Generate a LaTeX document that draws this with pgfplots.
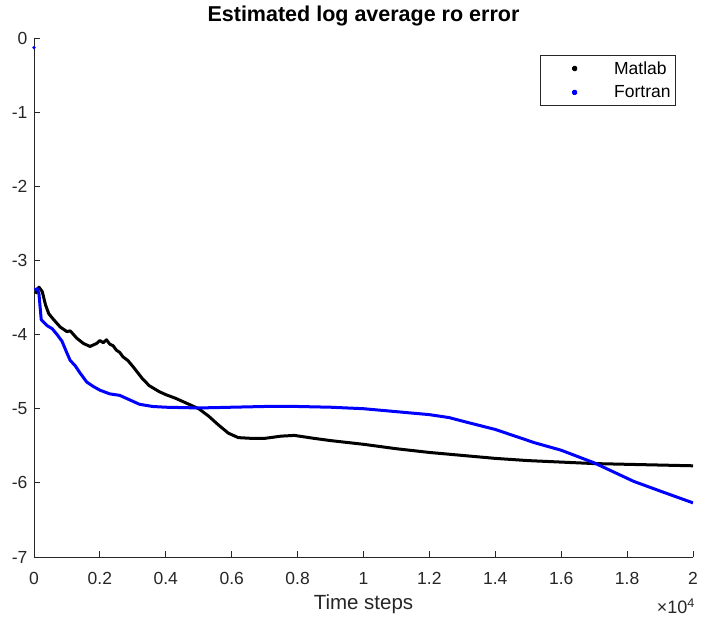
\documentclass[border=0pt]{standalone}
\usepackage{fontspec}
\setmainfont{Liberation Sans}
\usepackage{pgfplots}
\pgfplotsset{compat=1.18}
\definecolor{axgray}{gray}{0.15}

\begin{document}
\begin{tikzpicture}
\begin{axis}[
  scale only axis,
  width=659pt, height=519pt,
  xmin=0, xmax=20000, ymin=-7, ymax=0,
  axis x line*=bottom, axis y line*=left,
  axis line style={axgray, line width=0.8pt, -},
  tick style={axgray, line width=0.8pt},
  tick align=inside, major tick length=6pt,
  xtick={0,2000,...,20000},
  ytick={-7,-6,...,0},
  scaled x ticks=base 10:-4,
  xtick scale label code/.code={×10\textsuperscript{4}},
  every x tick scale label/.style={at={(rel axis cs:1,0)}, anchor=base east, inner sep=0pt, yshift=-45pt, xshift=2pt, font=\fontsize{18}{20}\selectfont, text=axgray},
  /pgf/number format/assume math mode=true,
  ticklabel style={font=\fontsize{17.5}{19}\selectfont, text=axgray},
  xticklabel style={yshift=-12pt},
  yticklabel style={xshift=-3pt},
  xlabel={Time steps},
  xlabel style={font=\fontsize{20.5}{22}\selectfont, text=axgray, at={(rel axis cs:0.5,0)}, anchor=base, yshift=-53pt, inner sep=0pt},
  title={Estimated log average ro error},
  title style={font=\bfseries\fontsize{21.5}{24}\selectfont, at={(rel axis cs:0.5,1)}, anchor=south, yshift=6pt, inner sep=0pt},
  legend style={at={(rel axis cs:0.974,0.967)}, anchor=north east, draw=axgray, line width=0.6pt,
    font=\fontsize{17.5}{19}\selectfont, inner xsep=3pt, inner ysep=4pt, row sep=6pt},
  legend cell align=left,
  legend image code/.code={\path (0,0) (66pt,0); \fill[#1] (30pt,0) circle (1.5pt);},
]
\addplot[black, line width=3pt, line join=round] coordinates {
(50,-3.45) (150,-3.36) (250,-3.42) (350,-3.60) (450,-3.72) (600,-3.80)
(800,-3.90) (1000,-3.96) (1100,-3.95) (1300,-4.05) (1500,-4.12) (1700,-4.16)
(1900,-4.12) (2000,-4.08) (2100,-4.11) (2200,-4.07) (2300,-4.13) (2400,-4.15)
(2500,-4.21) (2600,-4.24) (2700,-4.30) (2850,-4.35) (3000,-4.43) (3300,-4.60)
(3500,-4.69) (3800,-4.77) (4000,-4.81) (4300,-4.86) (4600,-4.92) (5000,-5.00)
(5300,-5.10) (5600,-5.22) (5900,-5.33) (6200,-5.39) (6600,-5.40) (7000,-5.40)
(7500,-5.37) (7900,-5.36) (8500,-5.40) (9000,-5.43) (10000,-5.48) (11000,-5.54)
(12000,-5.59) (13000,-5.63) (14000,-5.67) (15000,-5.70) (16000,-5.72)
(17000,-5.74) (18000,-5.75) (19000,-5.76) (20000,-5.77)
};
\addlegendentry{Matlab}
\addplot[blue, line width=3pt, line join=round] coordinates {
(20,-3.40) (100,-3.38) (150,-3.45) (220,-3.80) (400,-3.88) (550,-3.92)
(700,-4.00) (850,-4.09) (1000,-4.25) (1100,-4.35) (1250,-4.42) (1400,-4.52)
(1600,-4.64) (1800,-4.70) (2000,-4.75) (2300,-4.80) (2600,-4.82) (2900,-4.88)
(3200,-4.94) (3600,-4.97) (4000,-4.98) (5000,-4.99) (6000,-4.98) (7000,-4.97)
(8000,-4.97) (9000,-4.98) (10000,-5.00) (11000,-5.04) (12000,-5.08)
(12600,-5.12) (13200,-5.19) (14000,-5.28) (15200,-5.46) (16000,-5.56)
(17000,-5.73) (18200,-5.98) (19000,-6.11) (20000,-6.27)
};
\addlegendentry{Fortran}
\addplot[blue, only marks, mark=*, mark size=1.5pt, forget plot] coordinates {(0,-0.13)};
\coordinate (bl) at (rel axis cs:0,0);
\coordinate (tr) at (rel axis cs:1,1);
\end{axis}
\pgfresetboundingbox
\path[use as bounding box] ([xshift=-34pt,yshift=-65pt]bl) rectangle ([xshift=8pt,yshift=38pt]tr);
\end{tikzpicture}
\end{document}
